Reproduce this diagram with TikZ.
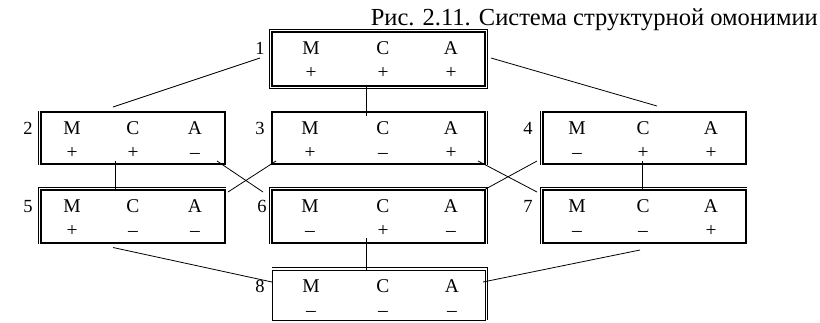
\documentclass[tikz,border=0pt]{standalone}
\usepackage{fontspec}
\setmainfont{Liberation Serif}
\begin{document}
\begin{tikzpicture}[x=1pt,y=-1pt,
  frame/.style={draw, line width=1.7pt, inner sep=0pt, outer sep=0pt, anchor=north west},
  thinframe/.style={draw, line width=0.8pt, inner sep=0pt, outer sep=0pt, anchor=north west},
  rim/.style={line width=0.7pt},
  link/.style={line width=0.8pt},
  lab/.style={font=\fontsize{18.5}{20}\selectfont, anchor=base, inner sep=0pt},
  ltr/.style={font=\fontsize{19.5}{22}\selectfont, anchor=base, inner sep=0pt},
  sgn/.style={font=\fontsize{19.5}{22}\selectfont, anchor=base, inner sep=0pt},
  captxt/.style={font=\fontsize{24.5}{28}\selectfont, anchor=base east, inner sep=0pt}
]
\useasboundingbox (0,0) rectangle (820,322);

\node[captxt] (caption) at (818,25.7) {Рис. 2.11. Система структурной омонимии};

% boxes
\node[frame, minimum width=213pt, minimum height=54pt] (b1) at (272,32) {};
\node[frame, minimum width=184pt, minimum height=52pt] (b2) at (41,112) {};
\node[frame, minimum width=213pt, minimum height=52pt] (b3) at (272,112) {};
\node[frame, minimum width=203pt, minimum height=52pt] (b4) at (543,112) {};
\node[frame, minimum width=184pt, minimum height=53pt] (b5) at (41,190) {};
\node[frame, minimum width=213pt, minimum height=53pt] (b6) at (272,190) {};
\node[frame, minimum width=203pt, minimum height=53pt] (b7) at (543,190) {};
\node[thinframe, minimum width=213pt, minimum height=50pt] (b8) at (272,270) {};

% outer thin rims
\draw[rim] ([xshift=-2.5pt,yshift=2.5pt]b1.north west) rectangle ([xshift=2.5pt,yshift=-2.5pt]b1.south east);
\draw[rim] ([xshift=-2.5pt,yshift=0.85pt]b2.north west) -- ([xshift=-2.5pt,yshift=-0.85pt]b2.south west);
\draw[rim] ([xshift=2.5pt,yshift=0.85pt]b3.north east) -- ([xshift=2.5pt,yshift=-0.85pt]b3.south east);
\draw[rim] ([xshift=-2.5pt,yshift=0.85pt]b4.north west) -- ([xshift=-2.5pt,yshift=-0.85pt]b4.south west);
\draw[rim] ([xshift=-2.5pt,yshift=-0.85pt]b5.south west) |- ([xshift=0.85pt,yshift=2.5pt]b5.north east);
\draw[rim] ([xshift=-2.5pt,yshift=-0.85pt]b6.south west) |- ([xshift=2.5pt,yshift=2.5pt]b6.north east) -- ([xshift=2.5pt,yshift=-0.85pt]b6.south east);
\draw[rim] ([xshift=-2.5pt,yshift=-0.85pt]b7.south west) |- ([xshift=0.85pt,yshift=2.5pt]b7.north east);
\draw[rim] ([xshift=-0.4pt,yshift=2.5pt]b8.north west) -| ([xshift=2.5pt,yshift=-0.4pt]b8.south east);

% contents
\foreach \n/\t/\xm/\xc/\xa/\sa/\sb/\sc/\l/\lx in {
  b1/32/311/383/451/+/+/+/1/260,
  b2/112/72/133/195/+/+/–/2/28,
  b3/112/310/383/451/+/–/+/3/260,
  b4/112/577/643/711/–/+/+/4/528,
  b5/190/72/133/195/+/–/–/5/28,
  b6/190/310/383/451/–/+/–/6/262,
  b7/190/577/643/711/–/–/+/7/528,
  b8/270/311/383/452/–/–/–/8/260}{
  \node[ltr] (\n m) at (\xm,\t+22) {М};
  \node[ltr] (\n c) at (\xc,\t+22) {С};
  \node[ltr] (\n a) at (\xa,\t+22) {А};
  \node[sgn] (\n sm) at (\xm,\t+46) {\sa};
  \node[sgn] (\n sc) at (\xc,\t+46) {\sb};
  \node[sgn] (\n sa) at (\xa,\t+46) {\sc};
  \node[lab] (\n lab) at (\lx,\t+22) {\l};
}

% connectors
\draw[link] ([xshift=72pt,yshift=5pt]b2.north west) -- ([xshift=-12pt,yshift=-26pt]b1.north west);
\draw[link] ([xshift=6pt,yshift=-26pt]b1.north east) -- ([xshift=114pt,yshift=6pt]b4.north west);
\draw[link] ([xshift=94pt]b1.south west) -- ([xshift=94pt,yshift=-4pt]b3.north west);
\draw[link] ([xshift=74pt,yshift=3pt]b2.south west) -- ([xshift=74pt]b5.north west);
\draw[link] ([xshift=-8pt,yshift=3pt]b2.south east) -- ([xshift=-9pt,yshift=-2pt]b6.north west);
\draw[link] ([xshift=4pt,yshift=3pt]b3.south west) -- ([xshift=3pt,yshift=-2pt]b5.north east);
\draw[link] ([xshift=-7pt,yshift=3pt]b3.south east) -- ([xshift=-6pt,yshift=-2pt]b7.north west);
\draw[link] ([xshift=-6pt,yshift=3pt]b4.south west) -- ([xshift=-3pt,yshift=-1pt]b6.north east);
\draw[link] ([xshift=99pt,yshift=3pt]b4.south west) -- ([xshift=99pt]b7.north west);
\draw[link] ([xshift=72pt,yshift=-4.5pt]b5.south west) -- ([yshift=-12pt]b8.north west);
\draw[link] ([xshift=94pt,yshift=5pt]b6.south west) -- ([xshift=94pt]b8.north west);
\draw[link] ([xshift=97pt,yshift=-7pt]b7.south west) -- ([xshift=-2pt,yshift=-12pt]b8.north east);
\end{tikzpicture}
\end{document}
